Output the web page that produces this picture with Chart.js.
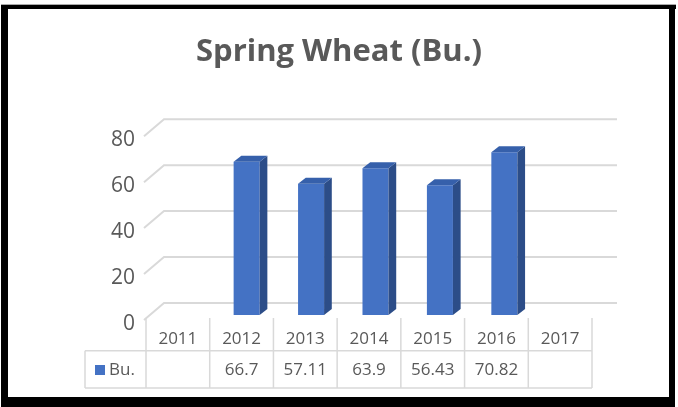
<!DOCTYPE html>
<html>
<head>
<meta charset="utf-8">
<title>Spring Wheat (Bu.)</title>
<script src="https://cdn.jsdelivr.net/npm/chart.js@4.4.1/dist/chart.umd.min.js"></script>
<style>
  html, body { margin: 0; padding: 0; background: #fff; }
  #wrap { position: relative; width: 678px; height: 407px; }
</style>
</head>
<body>
<div id="wrap"><canvas id="wheatChart" width="678" height="407"></canvas></div>
<script>
const years = ["2011", "2012", "2013", "2014", "2015", "2016", "2017"];
const bushels = [null, 66.7, 57.11, 63.9, 56.43, 70.82, null];
const seriesName = "Bu.";
const yTicks = [0, 20, 40, 60, 80];

const textGray = "#595959";
const gridGray = "#d9d9d9";
const barFront = "#4472c4";
const barSide = "#2c4d88";
const barTop = "#3660ab";

// fake 3d depth: offsets from the bar plane
const back = { dx: 14, dy: -12 };
const front = { dx: -6, dy: 5 };
const barDepth = { dx: 7.7, dy: -6 };

const wallsPlugin = {
  id: "walls",
  beforeDatasetsDraw(chart) {
    const ctx = chart.ctx;
    const area = chart.chartArea;
    const y = chart.scales.y;
    ctx.save();
    ctx.strokeStyle = gridGray;
    ctx.lineWidth = 2;
    yTicks.forEach(v => {
      const py = y.getPixelForValue(v);
      ctx.beginPath();
      ctx.moveTo(area.left + front.dx, py + front.dy);
      ctx.lineTo(area.left + back.dx, py + back.dy);
      ctx.lineTo(area.right + back.dx + 2, py + back.dy);
      ctx.stroke();
    });
    ctx.restore();
  },
  afterDatasetsDraw(chart) {
    // side and top faces of each column
    const ctx = chart.ctx;
    const meta = chart.getDatasetMeta(0);
    ctx.save();
    meta.data.forEach((bar, i) => {
      if (bushels[i] == null) return;
      const p = bar.getProps(["x", "y", "base", "width"], true);
      const l = p.x - p.width / 2;
      const r = p.x + p.width / 2;
      ctx.fillStyle = barSide;
      ctx.beginPath();
      ctx.moveTo(r, p.y);
      ctx.lineTo(r + barDepth.dx, p.y + barDepth.dy);
      ctx.lineTo(r + barDepth.dx, p.base + barDepth.dy);
      ctx.lineTo(r, p.base);
      ctx.closePath();
      ctx.fill();
      ctx.fillStyle = barTop;
      ctx.beginPath();
      ctx.moveTo(l, p.y);
      ctx.lineTo(l + barDepth.dx, p.y + barDepth.dy);
      ctx.lineTo(r + barDepth.dx, p.y + barDepth.dy);
      ctx.lineTo(r, p.y);
      ctx.closePath();
      ctx.fill();
    });
    ctx.restore();
  }
};

const tablePlugin = {
  id: "dataTable",
  afterDraw(chart) {
    const ctx = chart.ctx;
    const area = chart.chartArea;
    const x = chart.scales.x;
    const tLeft = 146, tRight = 592;
    const tx = px => tLeft + (px - area.left) * (tRight - tLeft) / (area.right - area.left);
    const top = 318, mid = 350.7, bottom = 388, legendLeft = 85;
    const step = x.getPixelForValue(1) - x.getPixelForValue(0);

    ctx.save();
    ctx.strokeStyle = gridGray;
    ctx.lineWidth = 1.5;
    ctx.beginPath();
    for (let i = 0; i <= years.length; i++) {
      const lx = tx(x.getPixelForValue(i) - step / 2);
      ctx.moveTo(lx, top);
      ctx.lineTo(lx, bottom);
    }
    ctx.moveTo(legendLeft, mid);
    ctx.lineTo(tRight, mid);
    ctx.moveTo(legendLeft, bottom);
    ctx.lineTo(tRight, bottom);
    ctx.moveTo(legendLeft, mid);
    ctx.lineTo(legendLeft, bottom);
    ctx.stroke();

    ctx.fillStyle = textGray;
    ctx.font = "17px 'Open Sans'";
    ctx.textAlign = "center";
    ctx.textBaseline = "middle";
    years.forEach((yr, i) => {
      const cx = tx(x.getPixelForValue(i));
      ctx.fillText(yr, cx, 339);
      if (bushels[i] != null) ctx.fillText(String(bushels[i]), cx, 370);
    });

    ctx.fillStyle = barFront;
    ctx.fillRect(95, 365, 10, 10);
    ctx.fillStyle = textGray;
    ctx.textAlign = "left";
    ctx.fillText(seriesName, 109, 370);

    // black frame round the picture
    ctx.fillStyle = "#aaa";
    ctx.fillRect(1, 4, 675, 1);
    ctx.fillStyle = "#000";
    ctx.fillRect(1, 5, 675, 4);
    ctx.fillRect(1, 5, 7, 402);
    ctx.fillRect(669, 5, 6, 402);
    ctx.fillRect(1, 397, 674, 10);
    ctx.restore();
  }
};

new Chart(document.getElementById("wheatChart"), {
  type: "bar",
  data: {
    labels: years,
    datasets: [{
      label: seriesName,
      data: bushels,
      backgroundColor: barFront,
      barPercentage: 0.404,
      categoryPercentage: 1
    }]
  },
  options: {
    responsive: false,
    animation: false,
    // equal side padding keeps the title centred on the whole picture
    layout: { padding: { top: 0, left: 77, right: 77, bottom: 92 } },
    plugins: {
      legend: { display: false },
      tooltip: { enabled: false },
      title: {
        display: true,
        text: "Spring Wheat (Bu.)",
        color: textGray,
        font: { family: "'Open Sans'", size: 31, weight: "bold" },
        padding: { top: 34, bottom: 60 }
      }
    },
    scales: {
      x: { display: false },
      y: {
        min: 0,
        max: 80,
        afterFit(scale) { scale.width = 73; },
        afterBuildTicks(scale) { scale.ticks = yTicks.map(v => ({ value: v })); },
        grid: { display: false, drawTicks: false },
        border: { display: false },
        ticks: {
          color: textGray,
          font: { family: "'Open Sans'", size: 21 },
          padding: 15,
          labelOffset: 9
        }
      }
    }
  },
  plugins: [wallsPlugin, tablePlugin]
});
</script>
</body>
</html>
